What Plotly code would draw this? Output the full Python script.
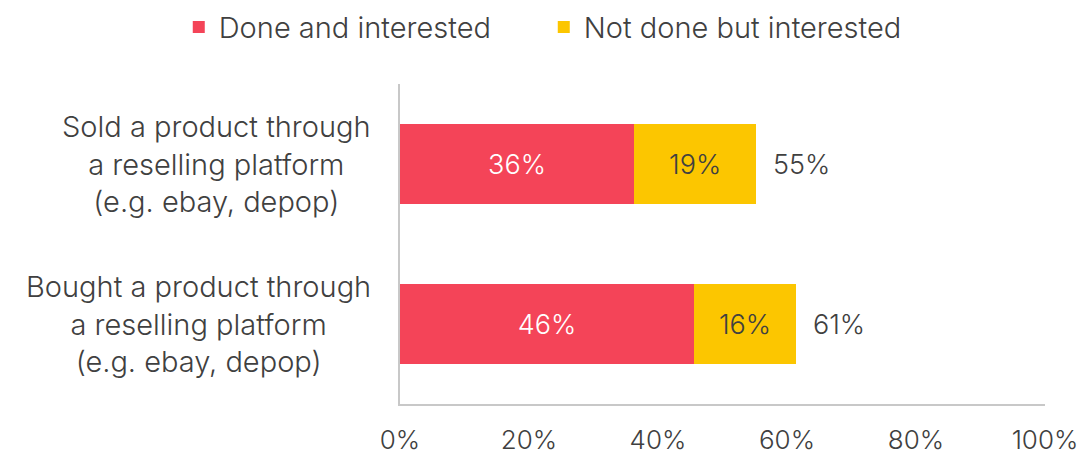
import plotly.graph_objects as go

# Survey categories, listed top to bottom
categories = [
    "Sold a product through<br>a reselling platform<br>(e.g. ebay, depop)",
    "Bought a product through<br>a reselling platform<br>(e.g. ebay, depop)",
]
done_interested = [36.3, 45.6]
not_done_interested = [18.9, 15.8]
totals = [round(a + b, 1) for a, b in zip(done_interested, not_done_interested)]

tick_values = [0, 20, 40, 60, 80, 100]
tick_labels = ["0%", "20%", "40%", "60%", "80%", "100%"]

RED = "#F44458"
YELLOW = "#FCC600"
TEXT = "#404040"
FONT = "Inter"
WEIGHT = 300

fig = go.Figure()

fig.add_trace(go.Bar(
    y=categories, x=done_interested, orientation="h",
    name="Done and interested", marker=dict(color=RED, line=dict(width=0)),
    text=[f"{round(v)}%" for v in done_interested], textposition="inside",
    insidetextanchor="middle",
    textfont=dict(color="white", size=27, family=FONT, weight=WEIGHT),
    hoverinfo="skip",
))
fig.add_trace(go.Bar(
    y=categories, x=not_done_interested, orientation="h",
    name="Not done but interested", marker=dict(color=YELLOW, line=dict(width=0)),
    text=[f"{round(v)}%" for v in not_done_interested], textposition="inside",
    insidetextanchor="middle",
    textfont=dict(color=TEXT, size=27, family=FONT, weight=WEIGHT),
    hoverinfo="skip",
))

# Stacked totals to the right of each bar
for cat, tot in zip(categories, totals):
    fig.add_annotation(
        x=tot, y=cat, xref="x", yref="y", text=f"{round(tot)}%",
        showarrow=False, xanchor="left", xshift=15,
        font=dict(size=27, color=TEXT, family=FONT, weight=WEIGHT),
    )

# Category labels, centred line by line, to the left of the axis
for cat in categories:
    fig.add_annotation(
        x=0, y=cat, xref="paper", yref="y", text=cat, showarrow=False,
        xanchor="right", xshift=-27, align="center",
        font=dict(size=29, color=TEXT, family=FONT, weight=WEIGHT),
    )

fig.update_layout(
    width=1081, height=456,
    margin=dict(l=400, r=36, t=84, b=52, autoexpand=False),
    barmode="stack", bargap=0.5,
    plot_bgcolor="white", paper_bgcolor="white",
    font=dict(family=FONT, color=TEXT, size=26, weight=WEIGHT),
    legend=dict(
        orientation="h", traceorder="normal",
        x=-0.343, xanchor="left", y=1.178, yanchor="middle",
        font=dict(size=29, color=TEXT, family=FONT, weight=WEIGHT),
        entrywidth=320, entrywidthmode="pixels",
    ),
    xaxis=dict(
        range=[0, 100], tickvals=tick_values, ticktext=tick_labels,
        showgrid=False, zeroline=False, showline=True, linecolor="#C8C8C8",
        linewidth=1.5, ticks="",
        tickfont=dict(size=26, color=TEXT, family=FONT, weight=WEIGHT),
        ticklabelstandoff=12, automargin=False,
    ),
    yaxis=dict(
        autorange="reversed", showticklabels=False, showgrid=False,
        zeroline=False, showline=True, linecolor="#C8C8C8", linewidth=1.5,
        ticks="", automargin=False,
    ),
)

fig.write_html("out.html")
